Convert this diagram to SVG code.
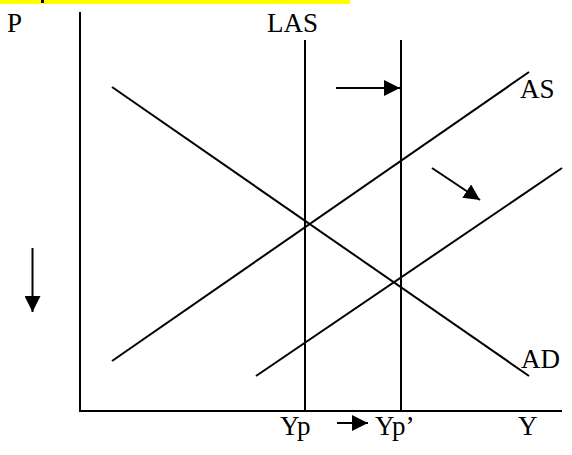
<svg xmlns="http://www.w3.org/2000/svg" width="572" height="455" viewBox="0 0 572 455">
<style>
.ln{stroke:#000;stroke-width:2;fill:none}
.t{font-family:"Liberation Serif","Times New Roman",serif;font-size:27px;fill:#000}
</style>
<defs>
<marker id="ah" markerWidth="8" markerHeight="8" refX="8" refY="4" orient="auto" markerUnits="strokeWidth">
<path d="M0,0 L8,4 L0,8 Z" fill="#000"/>
</marker>
</defs>
<rect width="572" height="455" fill="#fff"/>
<rect x="0" y="0" width="350" height="4" fill="#ffff00"/>
<rect x="41" y="0" width="3" height="3" fill="#000"/>
<g id="axes">
<line class="ln" x1="80" y1="12" x2="80" y2="412"/>
<line class="ln" x1="80" y1="411" x2="562" y2="411"/>
</g>
<g id="LAS"><line class="ln" x1="305" y1="40" x2="305" y2="411"/><text class="t" x="267" y="32">LAS</text></g>
<g id="LAS2"><line class="ln" x1="401" y1="40" x2="401" y2="411"/></g>
<g id="AD"><line class="ln" x1="112" y1="87" x2="529" y2="376"/><text class="t" x="521" y="368">AD</text></g>
<g id="AS"><line class="ln" x1="112" y1="361" x2="529" y2="72"/><text class="t" x="520" y="98">AS</text></g>
<g id="AS2"><line class="ln" x1="256" y1="376" x2="562" y2="168"/></g>
<g id="labels">
<text class="t" x="7" y="32">P</text>
<text class="t" x="280" y="435">Yp</text>
<text class="t" x="375" y="435">Yp’</text>
<text class="t" x="518" y="435">Y</text>
</g>
<g id="connectors">
<line class="ln" x1="336" y1="88" x2="400" y2="88" marker-end="url(#ah)"/>
<line class="ln" x1="432" y1="168" x2="480" y2="200" marker-end="url(#ah)"/>
<line class="ln" x1="32.5" y1="248" x2="32.5" y2="312" marker-end="url(#ah)"/>
<line class="ln" x1="337" y1="423" x2="368" y2="423" marker-end="url(#ah)"/>
</g>
</svg>
